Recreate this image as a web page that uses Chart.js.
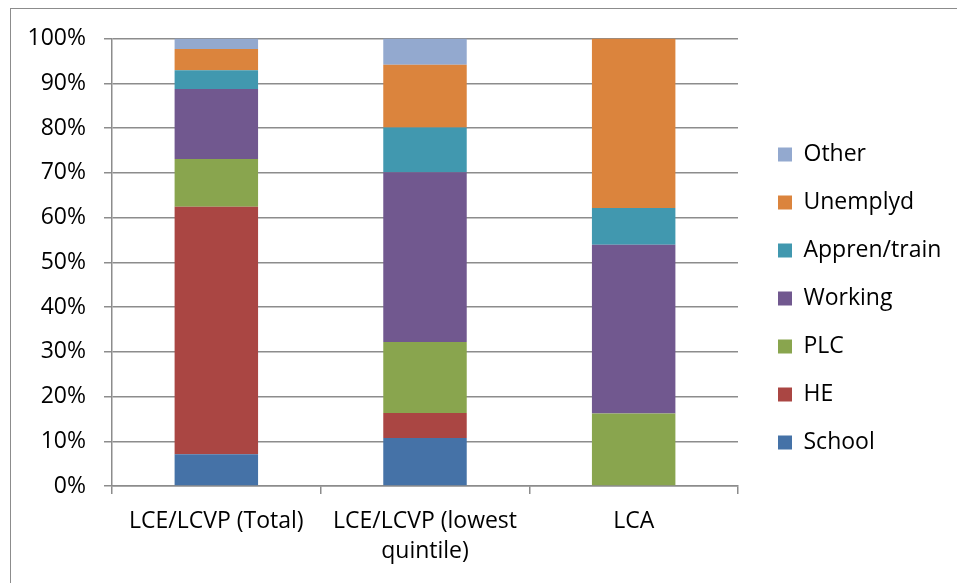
<!DOCTYPE html>
<html>
<head>
<meta charset="utf-8">
<script src="https://cdn.jsdelivr.net/npm/chart.js@4"></script>
<style>
  html, body { margin: 0; padding: 0; background: #fff; }
  #wrap { position: relative; width: 957px; height: 583px; overflow: hidden; }
  #frame { position: absolute; left: 10px; top: 8px; width: 960px; height: 600px;
           border-left: 1px solid #8c8c8c; border-top: 1px solid #8c8c8c; pointer-events: none; }
  canvas { position: absolute; left: 0; top: 0; }
</style>
</head>
<body>
<div id="wrap">
  <canvas id="chart" width="957" height="583"></canvas>
  <div id="frame"></div>
</div>
<script>
// Categories and stacked shares (%)
const categories = ['LCE/LCVP (Total)', ['LCE/LCVP (lowest', 'quintile)'], 'LCA'];

const school   = [7.1, 10.7, 0];
const he       = [55.3, 5.6, 0];
const plc      = [10.7, 15.9, 16.2];
const working  = [15.6, 37.9, 37.7];
const appren   = [4.2, 10.0, 8.2];
const unemplyd = [4.75, 14.05, 37.9];
const other    = [2.35, 5.85, 0];

const yTicks = [0, 10, 20, 30, 40, 50, 60, 70, 80, 90, 100];

// Excel 2007 style colours
const colors = {
    school: '#4572A7',
    he: '#AA4643',
    plc: '#89A54E',
    working: '#71588F',
    appren: '#4198AF',
    unemplyd: '#DB843D',
    other: '#93A9CF'
};

const gridColor = '#8c8c8c';
const fontFamily = '"Open Sans", "Liberation Sans", sans-serif';
const fontSize = 23;

// Keep the legend in the right-hand column where the reference puts it
const legendPlacement = {
    id: 'legendPlacement',
    beforeLayout(chart) {
        const lg = chart.legend;
        if (lg && !lg._fixedFit) {
            const fit = lg.fit;
            lg.fit = function() {
                fit.call(this);
                this.width = 957 - 738;
            };
            lg._fixedFit = true;
        }
    },
    afterLayout(chart) {
        const lg = chart.legend;
        if (!lg) return;
        lg.left = 753;
        lg.top = 118;
    }
};

function makeDataset(label, data, color) {
    return {
        label: label,
        data: data,
        backgroundColor: color,
        borderWidth: 0,
        barPercentage: 0.4,
        categoryPercentage: 1.0
    };
}

document.addEventListener('DOMContentLoaded', function() {
    const ctx = document.getElementById('chart').getContext('2d');
    Chart.defaults.font.family = fontFamily;
    Chart.defaults.color = '#000';

    new Chart(ctx, {
        type: 'bar',
        data: {
            labels: categories,
            datasets: [
                makeDataset('School', school, colors.school),
                makeDataset('HE', he, colors.he),
                makeDataset('PLC', plc, colors.plc),
                makeDataset('Working', working, colors.working),
                makeDataset('Appren/train', appren, colors.appren),
                makeDataset('Unemplyd', unemplyd, colors.unemplyd),
                makeDataset('Other', other, colors.other)
            ]
        },
        options: {
            responsive: false,
            animation: false,
            layout: { padding: { top: 38.5, left: 0, right: 0, bottom: 0 } },
            plugins: {
                tooltip: { enabled: false },
                legend: {
                    position: 'right',
                    align: 'start',
                    reverse: true,
                    labels: {
                        boxWidth: 14,
                        boxHeight: 14,
                        padding: 25,
                        color: '#000',
                        font: { size: fontSize }
                    }
                }
            },
            scales: {
                x: {
                    stacked: true,
                    offset: true,
                    afterFit: s => { s.height = 583 - 486; },
                    grid: {
                        display: true,
                        drawOnChartArea: false,
                        offset: true,
                        drawTicks: true,
                        tickLength: 8,
                        color: gridColor,
                        lineWidth: 1.5
                    },
                    border: { display: true, color: gridColor, width: 1.5 },
                    ticks: {
                        padding: 12.7,
                        maxRotation: 0,
                        autoSkip: false,
                        font: { size: fontSize, lineHeight: 30 / fontSize }
                    }
                },
                y: {
                    stacked: true,
                    min: 0,
                    max: 100,
                    afterFit: s => { s.width = 112; },
                    afterBuildTicks: s => { s.ticks = yTicks.map(v => ({ value: v })); },
                    grid: {
                        color: gridColor,
                        lineWidth: 1.5,
                        drawTicks: true,
                        tickLength: 8
                    },
                    border: { display: true, color: gridColor, width: 1.5 },
                    ticks: {
                        padding: 18,
                        font: { size: fontSize },
                        callback: v => v + '%'
                    }
                }
            }
        },
        plugins: [legendPlacement]
    });
});
</script>
</body>
</html>
